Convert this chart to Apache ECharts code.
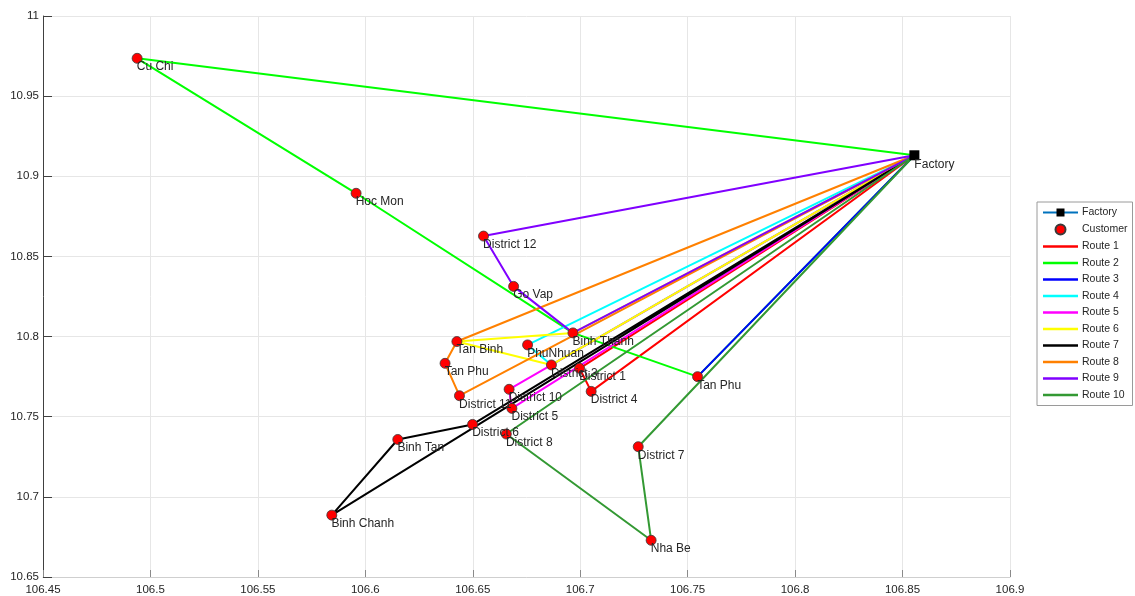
<!DOCTYPE html>
<html>
<head>
<meta charset="utf-8">
<title>Delivery routes</title>
<script src="https://cdn.jsdelivr.net/npm/echarts@6/dist/echarts.min.js"></script>
<style>
  html, body { margin: 0; padding: 0; background: #ffffff; }
  #chart { width: 1135px; height: 596px; }
</style>
</head>
<body>
<div id="chart"></div>
<script>
// Locations: index 0 is the factory, the rest are customers
const locNames = [
  'Factory', 'Cu Chi', 'Hoc Mon', 'District 12', 'Go Vap', 'Binh Thanh',
  'Tan Binh', 'Tan Phu', 'PhuNhuan', 'District 3', 'District 1', 'District 4',
  'District 11', 'District 10', 'District 5', 'District 6', 'District 8',
  'Binh Tan', 'Binh Chanh', 'Tan Phu', 'District 7', 'Nha Be'
];
const locLon = [
  106.8555, 106.4938, 106.5957, 106.6550, 106.6690, 106.6966,
  106.6426, 106.6371, 106.6755, 106.6866, 106.6997, 106.7051,
  106.6438, 106.6669, 106.6682, 106.6499, 106.6656,
  106.6151, 106.5844, 106.7546, 106.7270, 106.7330
];
const locLat = [
  10.9131, 10.9736, 10.8894, 10.8627, 10.8313, 10.8023,
  10.7969, 10.7833, 10.7948, 10.7823, 10.7802, 10.7658,
  10.7631, 10.7671, 10.7552, 10.7452, 10.7392,
  10.7358, 10.6886, 10.7750, 10.7313, 10.6729
];

// Stop sequence of each route (indices into the location arrays)
const routeNames = ['Route 1', 'Route 2', 'Route 3', 'Route 4', 'Route 5',
                    'Route 6', 'Route 7', 'Route 8', 'Route 9', 'Route 10'];
const routeStops = [
  [0, 10, 11, 0],
  [0, 1, 2, 5, 19, 0],
  [0, 19, 0],
  [0, 8, 9, 0],
  [0, 13, 14, 0],
  [0, 5, 6, 9, 0],
  [0, 15, 17, 18, 0],
  [0, 6, 7, 12, 0],
  [0, 3, 4, 5, 0],
  [0, 20, 21, 16, 0]
];
const routeColors = ['#ff0000', '#00ff00', '#0000ff', '#00ffff', '#ff00ff',
                     '#ffff00', '#000000', '#ff8000', '#8000ff', '#339933'];

// Axis ranges and tick step
const xMin = 106.45, xMax = 106.9, xStep = 0.05;
const yMin = 10.65, yMax = 11, yStep = 0.05;

const textColor = '#262626';
const fontFamily = '"Liberation Sans", Arial, Helvetica, sans-serif';

const chart = echarts.init(document.getElementById('chart'), null, { renderer: 'canvas' });

const routeSeries = routeStops.map((stops, i) => ({
  name: routeNames[i],
  type: 'line',
  data: stops.map(k => [locLon[k], locLat[k]]),
  symbol: 'none',
  lineStyle: { color: routeColors[i], width: 2 },
  itemStyle: { color: routeColors[i] },
  emphasis: { disabled: true },
  silent: true,
  z: 2 + i * 0.01,
  animation: false
}));

const labelStyle = {
  show: true,
  position: [5, 8],
  align: 'left',
  verticalAlign: 'top',
  formatter: p => p.name,
  color: textColor,
  fontSize: 12,
  fontFamily: fontFamily
};

const customerSeries = {
  name: 'Customer',
  type: 'scatter',
  data: locNames.slice(1).map((n, j) => ({ name: n, value: [locLon[j + 1], locLat[j + 1]] })),
  symbol: 'circle',
  symbolSize: 10,
  itemStyle: { color: '#ff0000', borderColor: '#3a3a3a', borderWidth: 0.8, opacity: 1 },
  label: labelStyle,
  emphasis: { disabled: true },
  z: 5,
  animation: false
};

const factorySeries = {
  name: 'Factory',
  type: 'line',
  data: [{ name: locNames[0], value: [locLon[0], locLat[0]] }],
  symbol: 'rect',
  symbolSize: 10,
  showSymbol: true,
  itemStyle: { color: '#000000' },
  lineStyle: { color: '#0072bd', width: 1 },
  label: labelStyle,
  emphasis: { disabled: true },
  z: 6,
  animation: false
};

const fmt = v => String(+v.toFixed(2));

// Plain line swatch for route entries in the legend
const lineIcon = 'path://M0,0H35V2.6H0Z';

chart.setOption({
  backgroundColor: '#ffffff',
  animation: false,
  grid: { left: 43, right: 125, top: 16, bottom: 19, containLabel: false },
  xAxis: {
    type: 'value',
    min: xMin, max: xMax, interval: xStep,
    axisLine: { show: true, lineStyle: { color: '#cfcfcf', width: 1 } },
    axisTick: { show: true, inside: true, length: 7, lineStyle: { color: '#8a8a8a' } },
    axisLabel: { formatter: fmt, color: textColor, fontSize: 11.5, fontFamily: fontFamily, margin: 7 },
    splitLine: { show: true, lineStyle: { color: '#e6e6e6', width: 1 } }
  },
  yAxis: {
    type: 'value',
    min: yMin, max: yMax, interval: yStep,
    axisLine: { show: true, lineStyle: { color: '#404040', width: 1 } },
    axisTick: { show: true, inside: true, length: 9, lineStyle: { color: '#404040' } },
    axisLabel: { formatter: fmt, color: textColor, fontSize: 11.5, fontFamily: fontFamily, margin: 4 },
    splitLine: { show: true, lineStyle: { color: '#e6e6e6', width: 1 } }
  },
  legend: {
    orient: 'vertical',
    left: 1037,
    top: 202,
    padding: [5, 5, 5, 5],
    itemWidth: 35,
    itemHeight: 10,
    itemGap: 5.5,
    backgroundColor: '#ffffff',
    borderColor: '#9a9a9a',
    borderWidth: 1,
    selectedMode: false,
    textStyle: { color: textColor, fontSize: 10.5, fontFamily: fontFamily, padding: [0, 0, 0, -1] },
    data: [
      { name: 'Factory' },
      { name: 'Customer', icon: 'circle' }
    ].concat(routeNames.map(n => ({ name: n, icon: lineIcon })))
  },
  series: routeSeries.concat([customerSeries, factorySeries])
});
</script>
</body>
</html>
